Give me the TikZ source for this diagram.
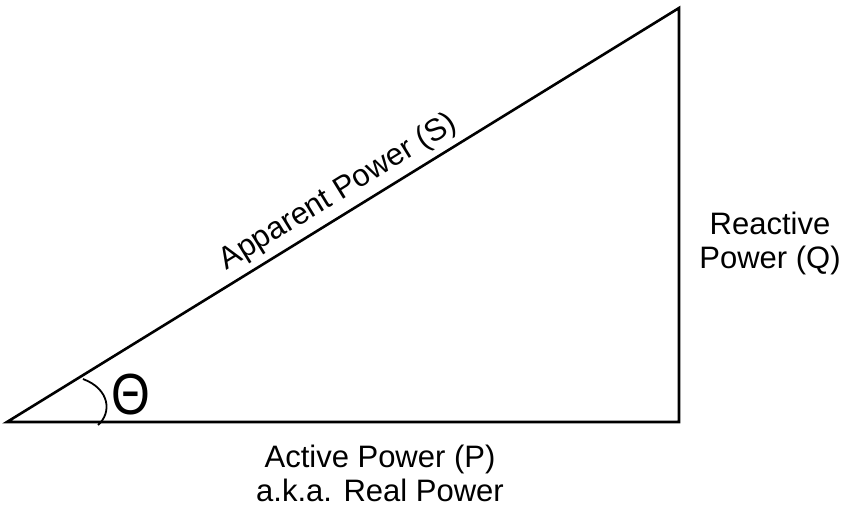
\documentclass[tikz,border=0pt]{standalone}
\usepackage{fontspec}
\setmainfont{Liberation Sans}
\begin{document}
\begin{tikzpicture}[x=1pt,y=1pt]
\tikzset{side/.style={black,line width=2.6pt,line join=miter},
  lbl/.style={font=\fontsize{31}{34}\selectfont,align=center,inner sep=0pt}}
\useasboundingbox (0,0) rectangle (846,513);
\coordinate (origin) at (7,91);
\coordinate (pend) at (679,91);
\coordinate (qend) at (679,505);
\draw[side] (origin) -- (pend) -- (qend) -- cycle;
\path (origin) -- (qend) node[lbl,pos=0.51,sloped,above,inner sep=7pt] (slabel) {Apparent Power (S)};
\draw[black,line width=1.8pt] (98,88) .. controls (112,100) and (110,124) .. (83,134);
\node[inner sep=0pt,xscale=0.86,font=\fontsize{58}{58}\selectfont] (theta) at (131,118) {Θ};
\node[lbl] (plabel) at (380,40) {Active Power (P)\\a.k.a. Real Power};
\node[lbl] (qlabel) at (770,270) {Reactive\\Power (Q)};
\end{tikzpicture}
\end{document}
